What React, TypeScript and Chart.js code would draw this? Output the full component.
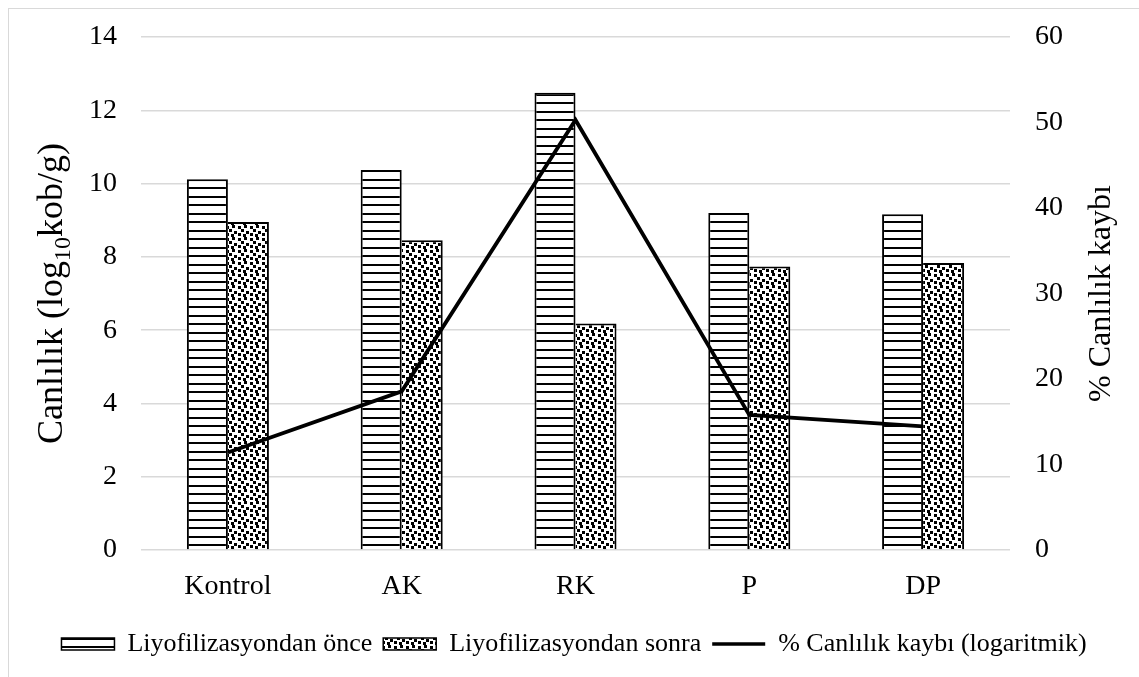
import React, { useEffect, useRef } from 'react';
import { Chart, registerables } from 'chart.js';

Chart.register(...registerables);

const categories = ['Kontrol', 'AK', 'RK', 'P', 'DP'];
const beforeValues = [10.12, 10.37, 12.48, 9.2, 9.16];
const afterValues = [8.95, 8.45, 6.18, 7.74, 7.83];
const lossValues = [11.4, 18.55, 50.3, 15.8, 14.45];
const seriesLabels = ['Liyofilizasyondan önce', 'Liyofilizasyondan sonra', '% Canlılık kaybı (logaritmik)'];
const leftTicks = [0, 2, 4, 6, 8, 10, 12, 14];
const rightTicks = [0, 10, 20, 30, 40, 50, 60];
const leftTitleParts = ['Canlılık (log', '10', 'kob/g)'];
const rightTitle = '% Canlılık kaybı';

const FONT = '"Liberation Serif", "Times New Roman", serif';

function makeStripe(): CanvasPattern | string {
  const c = document.createElement('canvas');
  c.width = 8;
  c.height = 17;
  const g = c.getContext('2d');
  if (!g) return '#fff';
  g.fillStyle = '#fff';
  g.fillRect(0, 0, 8, 17);
  g.fillStyle = '#000';
  g.fillRect(0, 0, 8, 2);
  g.fillRect(0, 8, 8, 2);
  return g.createPattern(c, 'repeat') || '#fff';
}

function makeConfetti(): CanvasPattern | string {
  const c = document.createElement('canvas');
  c.width = 12;
  c.height = 12;
  const g = c.getContext('2d');
  if (!g) return '#fff';
  g.fillStyle = '#fff';
  g.fillRect(0, 0, 12, 12);
  g.fillStyle = '#000';
  const sq = [[1, 1], [7, 0], [4, 4], [9, 6], [1, 8], [6, 9]];
  sq.forEach(([x, y]) => g.fillRect(x, y, 3, 3));
  return g.createPattern(c, 'repeat') || '#fff';
}

const titlePlugin = {
  id: 'axisTitles',
  afterDraw(chart: any) {
    const ctx = chart.ctx as CanvasRenderingContext2D;
    const area = chart.chartArea;
    const cy = (area.top + area.bottom) / 2;
    const big = 36;
    const small = 24;
    ctx.save();
    ctx.fillStyle = '#000';
    ctx.textBaseline = 'alphabetic';
    ctx.textAlign = 'left';
    const sizes = [big, small, big];
    const offs = [0, 8, 0];
    let total = 0;
    const widths = leftTitleParts.map((t, i) => {
      ctx.font = `${sizes[i]}px ${FONT}`;
      const w = ctx.measureText(t).width;
      total += w;
      return w;
    });
    ctx.translate(53, cy);
    ctx.rotate(-Math.PI / 2);
    let x = -total / 2;
    leftTitleParts.forEach((t, i) => {
      ctx.font = `${sizes[i]}px ${FONT}`;
      ctx.fillText(t, x, offs[i]);
      x += widths[i];
    });
    ctx.restore();
    ctx.save();
    ctx.fillStyle = '#000';
    ctx.font = `32px ${FONT}`;
    ctx.textAlign = 'center';
    ctx.textBaseline = 'alphabetic';
    ctx.translate(1101, cy);
    ctx.rotate(-Math.PI / 2);
    ctx.fillText(rightTitle, 0, 0);
    ctx.restore();
  },
};

export default function App() {
  const ref = useRef<HTMLCanvasElement | null>(null);

  useEffect(() => {
    if (!ref.current) return;
    const stripe = makeStripe();
    const confetti = makeConfetti();
    const tickFont = { family: FONT, size: 28 };
    const chart = new Chart(ref.current, {
      data: {
        labels: categories,
        datasets: [
          {
            type: 'bar',
            label: seriesLabels[0],
            data: beforeValues,
            backgroundColor: stripe as any,
            borderColor: '#000',
            borderWidth: { top: 2, left: 2, right: 2, bottom: 0 },
            yAxisID: 'y',
            order: 2,
            categoryPercentage: 0.472,
            barPercentage: 1,
          },
          {
            type: 'bar',
            label: seriesLabels[1],
            data: afterValues,
            backgroundColor: confetti as any,
            borderColor: '#000',
            borderWidth: { top: 2, left: 0, right: 2, bottom: 0 },
            yAxisID: 'y',
            order: 2,
            categoryPercentage: 0.472,
            barPercentage: 1,
          },
          {
            type: 'line',
            label: seriesLabels[2],
            data: lossValues,
            borderColor: '#000',
            backgroundColor: '#000',
            borderWidth: 3.8,
            pointRadius: 0,
            tension: 0,
            yAxisID: 'y1',
            order: 1,
          },
        ],
      } as any,
      options: {
        responsive: false,
        animation: false,
        layout: { padding: { top: 28, bottom: 10, left: 0, right: 0 } },
        plugins: {
          tooltip: { enabled: false },
          legend: {
            position: 'bottom',
            labels: {
              color: '#000',
              font: { family: FONT, size: 26 },
              usePointStyle: true,
              pointStyleWidth: 53,
              boxHeight: 12,
              padding: 11,
              generateLabels: (c: any) => {
                const items = (Chart.defaults.plugins.legend.labels as any).generateLabels(c);
                return items
                  .sort((a: any, b: any) => a.datasetIndex - b.datasetIndex)
                  .map((it: any) => {
                    const isLine = it.datasetIndex === 2;
                    return {
                      ...it,
                      pointStyle: isLine ? 'line' : 'rect',
                      lineWidth: isLine ? 3.5 : 1.5,
                      strokeStyle: '#000',
                      fontColor: '#000',
                      fillStyle: isLine ? '#000' : it.fillStyle,
                    };
                  });
              },
            },
          },
        },
        scales: {
          x: {
            grid: { display: false },
            border: { display: false },
            ticks: { font: tickFont, color: '#000', padding: 12 },
            afterFit: (s: any) => { s.height = 70; },
          },
          y: {
            position: 'left',
            min: leftTicks[0],
            max: leftTicks[leftTicks.length - 1],
            ticks: { stepSize: leftTicks[1] - leftTicks[0], font: tickFont, color: '#000', padding: 0 },
            grid: { color: '#d9d9d9', lineWidth: 1.5, drawTicks: true, tickLength: 24, tickColor: 'transparent' },
            border: { display: false },
            afterFit: (s: any) => { s.width = 132; },
          },
          y1: {
            position: 'right',
            min: rightTicks[0],
            max: rightTicks[rightTicks.length - 1],
            ticks: { stepSize: rightTicks[1] - rightTicks[0], font: tickFont, color: '#000', padding: 0 },
            grid: { drawOnChartArea: false, drawTicks: true, tickLength: 25, tickColor: 'transparent' },
            border: { display: false },
            afterFit: (s: any) => { s.width = 129; },
          },
        },
      } as any,
      plugins: [titlePlugin],
    });
    return () => chart.destroy();
  }, []);

  return (
    <div
      style={{
        position: 'fixed',
        left: 8,
        top: 8,
        width: 1131,
        height: 669,
        boxSizing: 'border-box',
        borderLeft: '1px solid #d9d9d9',
        borderTop: '1px solid #d9d9d9',
        background: '#fff',
      }}
    >
      <canvas ref={ref} width={1130} height={668} style={{ display: 'block', width: 1130, height: 668 }} />
    </div>
  );
}
